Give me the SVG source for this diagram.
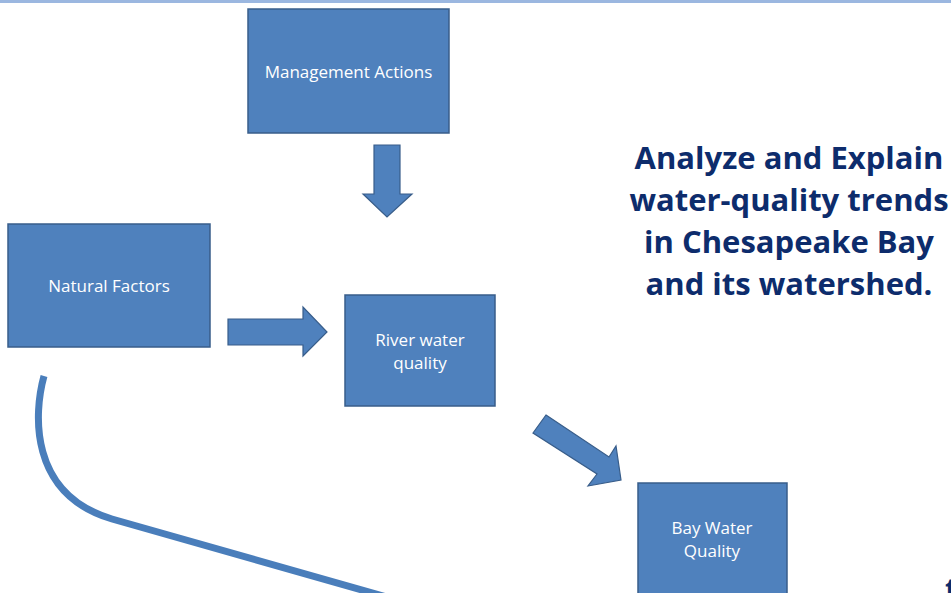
<svg xmlns="http://www.w3.org/2000/svg" width="951" height="593" viewBox="0 0 951 593">
<style>
.box{fill:#4F81BD;stroke:#385D8A;stroke-width:1.5}
.arrow{fill:#4F81BD;stroke:#385D8A;stroke-width:1.2;stroke-linejoin:miter}
.lbl{fill:#FFFFFF;font-family:"Open Sans","Liberation Sans",sans-serif;font-size:17px;text-anchor:middle}
.title{fill:#0D2C6C;font-family:"Open Sans","Liberation Sans",sans-serif;font-size:31px;font-weight:bold;text-anchor:middle}
</style>
<rect x="0" y="0" width="951" height="593" fill="#FFFFFF"/>
<rect x="0" y="0" width="951" height="3" fill="#9BB7E0"/>
<g id="management">
<rect class="box" x="248" y="9" width="201" height="124"/>
<text class="lbl" x="348.5" y="78">Management Actions</text>
</g>
<g id="natural">
<rect class="box" x="8" y="224" width="202" height="123"/>
<text class="lbl" x="109" y="292">Natural Factors</text>
</g>
<g id="river">
<rect class="box" x="345" y="295" width="150" height="111"/>
<text class="lbl" x="420" y="346">River water</text>
<text class="lbl" x="420" y="369">quality</text>
</g>
<g id="bay">
<rect class="box" x="638" y="483" width="149" height="115"/>
<text class="lbl" x="712" y="534">Bay Water</text>
<text class="lbl" x="712" y="557">Quality</text>
</g>
<g id="title">
<text class="title" x="789" y="169">Analyze and Explain</text>
<text class="title" x="789" y="211">water-quality trends</text>
<text class="title" x="789" y="253">in Chesapeake Bay</text>
<text class="title" x="789" y="295">and its watershed.</text>
<text class="title" x="945" y="600" style="text-anchor:start">t</text>
</g>
<g id="connectors">
<polygon class="arrow" points="374,145 400,145 400,194 412,194 387,217 363,194 374,194"/>
<polygon class="arrow" points="228,319 303,319 303,307 327,332 303,356 303,345 228,345"/>
<polygon class="arrow" points="546,415 609,457 616,446 621,480 588,486 597,474 533,433"/>
<path d="M 44 376 C 34 412, 28 494, 112 519 L 390 598" fill="none" stroke="#4A7EBB" stroke-width="7"/>
</g>
</svg>
